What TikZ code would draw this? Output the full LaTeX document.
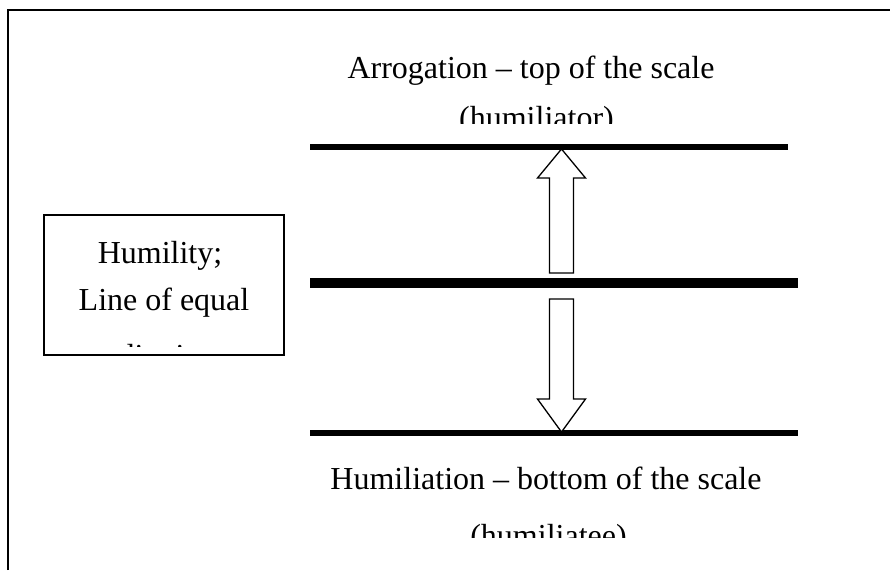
\documentclass[tikz,border=0pt]{standalone}
\usepackage{fontspec}
\setmainfont{Liberation Serif}
\usetikzlibrary{calc}

\begin{document}
\begin{tikzpicture}[
  x=1pt, y=-1pt,
  frame/.style={line width=2.2pt},
  bar/.style={line width=6pt},
  label/.style={anchor=base, inner sep=0pt, font=\fontsize{32}{38}\selectfont},
  blockarrow/.style={draw, line width=1.3pt, fill=white, line join=miter}
]
  \useasboundingbox (0,0) rectangle (890,570);

  % outer frame, cut off at right and bottom
  \draw[frame] (8,570) -- (8,10) -- (890,10);

  % scale lines
  \coordinate (topL) at (310,147); \coordinate (topR) at (788,147);
  \coordinate (midL) at (310,283); \coordinate (midR) at (798,283);
  \coordinate (botL) at (310,433); \coordinate (botR) at (798,433);
  \draw[bar] (topL) -- (topR);
  \draw[bar, line width=10pt] (midL) -- (midR);
  \draw[bar] (botL) -- (botR);

  % block arrows
  \coordinate (upTip) at (561.5,149);
  \coordinate (downTip) at (561.5,432);
  \draw[blockarrow] (upTip) -- ++(24,29) -- ++(-12,0) -- ++(0,95) -- ++(-24,0)
    -- ++(0,-95) -- ++(-12,0) -- cycle;
  \draw[blockarrow] (downTip) -- ++(24,-33) -- ++(-12,0) -- ++(0,-100) -- ++(-24,0)
    -- ++(0,100) -- ++(-12,0) -- cycle;

  % top label
  \begin{scope}
    \clip (300,30) rectangle (790,123);
    \node[label] (arrog) at (531,78) {Arrogation -- top of the scale};
    \node[label] (humtor) at (536.5,128) {(humiliator)};
  \end{scope}

  % bottom label
  \begin{scope}
    \clip (300,450) rectangle (800,537);
    \node[label] (humil) at (546,489) {Humiliation -- bottom of the scale};
    \node[label] (humtee) at (548.5,546) {(humiliatee)};
  \end{scope}

  % humility box
  \node[draw, line width=1.5pt, minimum width=240pt, minimum height=140pt, inner sep=0pt] (humbox) at (164,285) {};
  \begin{scope}
    \clip (46,217) rectangle (282,346);
    \node[label] (humility) at (160,263) {Humility;};
    \node[label] (equal) at (164,310) {Line of equal};
    \node[label] (dignity) at (164,366) {dignity};
  \end{scope}
\end{tikzpicture}
\end{document}
